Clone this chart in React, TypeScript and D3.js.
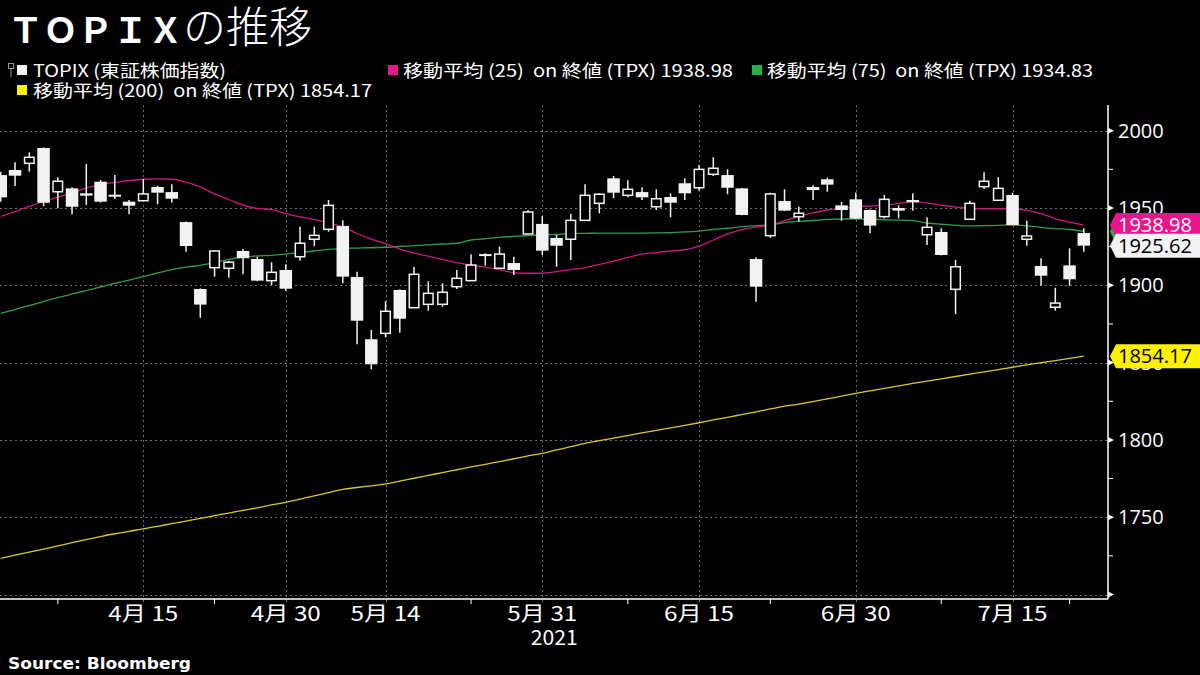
import React from "react";
import * as d3 from "d3";

const dates = ["2021-04-01","2021-04-02","2021-04-05","2021-04-06","2021-04-07","2021-04-08","2021-04-09","2021-04-12","2021-04-13","2021-04-14","2021-04-15","2021-04-16","2021-04-19","2021-04-20","2021-04-21","2021-04-22","2021-04-23","2021-04-26","2021-04-27","2021-04-28","2021-04-30","2021-05-06","2021-05-07","2021-05-10","2021-05-11","2021-05-12","2021-05-13","2021-05-14","2021-05-17","2021-05-18","2021-05-19","2021-05-20","2021-05-21","2021-05-24","2021-05-25","2021-05-26","2021-05-27","2021-05-28","2021-05-31","2021-06-01","2021-06-02","2021-06-03","2021-06-04","2021-06-07","2021-06-08","2021-06-09","2021-06-10","2021-06-11","2021-06-14","2021-06-15","2021-06-16","2021-06-17","2021-06-18","2021-06-21","2021-06-22","2021-06-23","2021-06-24","2021-06-25","2021-06-28","2021-06-29","2021-06-30","2021-07-01","2021-07-02","2021-07-05","2021-07-06","2021-07-07","2021-07-08","2021-07-09","2021-07-12","2021-07-13","2021-07-14","2021-07-15","2021-07-16","2021-07-19","2021-07-20","2021-07-21","2021-07-26"];

const opens = [1971.3,1974.6,1978.9,1988.8,1960.5,1962.7,1959.5,1967,1958.6,1954.1,1954.7,1963.6,1960.3,1940.9,1897.6,1911.4,1911,1922.2,1917,1903,1909.9,1918.5,1929.8,1936.2,1938.4,1905.4,1865.1,1868.9,1897,1885.5,1887.7,1887.7,1899.1,1903,1920.2,1911,1914.4,1933.2,1939.7,1930.6,1929.8,1942,1953,1969.2,1958.2,1960.3,1950.8,1957.1,1966,1963.1,1971.8,1971.3,1962.7,1917,1932.1,1954.5,1944.4,1963.6,1968.6,1951.7,1955.6,1948.7,1944.4,1950,1955.2,1932.7,1934.5,1897.4,1942.7,1963.8,1955,1958.4,1929.8,1912.5,1885.8,1912.9,1933.8];
const highs = [1973.5,1979.6,1986,1989.2,1969.9,1963.5,1978.5,1968.1,1971.3,1955.2,1968.8,1964.4,1965.3,1941.2,1898,1922.5,1915.9,1923.5,1918.5,1914.9,1913.6,1937.9,1937.9,1955.2,1942,1908.8,1871.1,1889.7,1897.3,1911.8,1902.6,1901.3,1909.9,1920.1,1920.7,1925,1918.5,1948.7,1944.8,1932.5,1946.1,1965.3,1959.5,1970.7,1967.9,1963.4,1962.1,1959.5,1969.2,1977.8,1982.8,1975,1963,1918.1,1959.9,1962.1,1950.8,1964.7,1969.6,1953.9,1960.1,1949,1958.4,1951.7,1959.5,1944,1936.9,1916.4,1954.7,1973.1,1969.9,1959.9,1941.8,1917.5,1898.4,1923.9,1936.9];
const lows = [1954,1964.2,1973.5,1951.3,1949.8,1945.9,1951.9,1953.5,1955.8,1945.9,1954.5,1952.4,1953.4,1921.7,1879,1905.6,1904.9,1907.1,1902.6,1900.2,1896.5,1915.9,1925.4,1934.7,1901.3,1861.8,1845.7,1866.4,1869.3,1885.2,1883.6,1886.2,1897.6,1902.8,1912.7,1910.8,1906.7,1933,1919.6,1912,1916.3,1941.8,1946.6,1956.3,1956.9,1955.2,1948.7,1944,1955.2,1961.2,1970.7,1958.9,1945.3,1889.4,1930.8,1948.1,1941.1,1955.2,1960.5,1941.8,1942.9,1933.6,1943.3,1943.3,1948.3,1926.1,1919.4,1881.4,1942.5,1962.3,1954.8,1938.8,1925.6,1899.7,1883.6,1899.7,1921.7];
const closes = [1956.9,1970.9,1982.8,1953.4,1967.3,1950.8,1958,1954.1,1957.3,1951.5,1959.1,1959.9,1956,1925.4,1887.5,1922.2,1914.9,1917.5,1903,1908.4,1897.8,1927.2,1932.3,1951.7,1905.6,1877.1,1848.9,1883.2,1878.4,1907.1,1894.8,1895.5,1904.5,1913.1,1918.9,1920.2,1909.9,1947.4,1922.4,1925.6,1942,1958.2,1958.9,1959.9,1962.1,1956.9,1956,1953.4,1959.5,1975,1975.7,1963.1,1945.5,1899.1,1959.1,1948.3,1946.6,1961.6,1965.1,1948.7,1943.1,1938.6,1955.6,1948.3,1953.7,1937.5,1919.6,1912,1953,1967.3,1962.7,1939,1931.9,1906.2,1888.5,1903.9,1925.62];

const ma25 = [1944.5,1947.7,1951.0,1954.2,1957.1,1960.0,1962.9,1965.3,1966.5,1967.8,1968.6,1968.8,1968.6,1966.8,1963.6,1959.1,1955.5,1951.9,1949.7,1949.0,1946.4,1944.2,1942.6,1940.3,1937.7,1933.5,1929.9,1927.0,1923.4,1920.9,1918.8,1916.7,1914.6,1913.1,1911.8,1910.2,1908.2,1907.8,1907.8,1908.9,1910.2,1911.5,1913.5,1915.7,1918.0,1920.2,1921.2,1922.2,1923.0,1925.4,1929.3,1933.2,1936.0,1937.7,1939.0,1941.9,1944.5,1946.8,1948.7,1949.7,1950.6,1951.3,1951.9,1952.9,1954.1,1953.2,1951.9,1950.6,1949.7,1949.5,1949.5,1949.4,1948.4,1946.4,1943.2,1940.9,1938.98];
const ma75 = [1881.9,1884.3,1886.9,1889.5,1892.1,1894.4,1896.6,1898.9,1901.2,1903.4,1905.6,1908.0,1910.2,1911.8,1912.9,1914.7,1916.7,1918.3,1919.0,1919.4,1920.1,1921.2,1922.2,1923.2,1923.9,1924.1,1924.3,1924.6,1925.1,1925.7,1926.2,1926.7,1927.2,1929.3,1930.1,1931.0,1931.6,1932.2,1932.5,1933.0,1933.4,1933.6,1933.8,1933.8,1933.8,1933.8,1933.9,1934.0,1934.5,1935.1,1936.1,1936.9,1937.9,1938.6,1939.0,1940.6,1941.3,1941.9,1942.6,1942.9,1942.9,1942.7,1942.4,1942.2,1941.8,1940.3,1939.5,1938.8,1938.4,1938.6,1938.8,1939.0,1938.5,1937.5,1936.7,1936.1,1934.83];
const ma200 = [1723.4,1725.4,1727.4,1729.4,1731.4,1733.5,1735.5,1737.5,1739.3,1740.9,1742.4,1744.1,1745.8,1747.5,1749.2,1751.0,1752.7,1754.4,1756.1,1757.9,1759.6,1761.7,1763.8,1765.9,1768.0,1769.2,1770.3,1771.5,1773.3,1775.2,1777.0,1778.9,1780.7,1782.5,1784.2,1786.0,1787.8,1789.6,1791.3,1793.5,1795.6,1797.8,1799.5,1801.1,1802.8,1804.5,1806.1,1807.8,1809.4,1811.1,1812.9,1814.6,1816.4,1818.2,1820.0,1821.8,1823.1,1824.8,1826.5,1828.3,1830.1,1831.7,1833.3,1834.9,1836.5,1838.0,1839.5,1841.0,1842.5,1844.0,1845.5,1847.0,1848.5,1849.9,1851.3,1852.7,1854.17];

const yTickValues = [1750, 1800, 1850, 1900, 1950, 2000];
const yMajorMarks = [1700, 1750, 1800, 1850, 1900, 1950, 2000];
const yMinorMarks = [1725, 1775, 1825, 1875, 1925, 1975];
const xTickDates = ["2021-04-15","2021-04-30","2021-05-14","2021-05-31","2021-06-15","2021-06-30","2021-07-15"];
const xTickLabels = ["4月 15","4月 30","5月 14","5月 31","6月 15","6月 30","7月 15"];
const xMinorDates = ["2021-04-07","2021-04-22","2021-05-24","2021-06-08","2021-06-22","2021-07-08","2021-07-21"];
const yearLabel = "2021";

const legendLabels = ["TOPIX (東証株価指数)", "移動平均 (25)  on 終値 (TPX) 1938.98", "移動平均 (75)  on 終値 (TPX) 1934.83", "移動平均 (200)  on 終値 (TPX) 1854.17"];

const JP = "'Noto Sans CJK JP', 'Noto Sans', sans-serif";
const NUM = "'Open Sans', 'Noto Sans', sans-serif";

export default function App() {
  const W = 1200, H = 675;
  const axisX = 1108, axisY = 599, plotTop = 105;
  const x = d3.scalePoint<string>().domain(dates).range([0.8, 1083.8]);
  const y = d3.scaleLinear().domain([1700, 2000]).range([594.5, 130.7]);
  const xi = (i: number) => x(dates[i]) as number;
  const mkLine = (arr: number[]) =>
    d3.line<number>().x((_, i) => xi(i)).y((d) => y(d)).curve(d3.curveMonotoneX)(arr) || "";

  const lastClose = closes[closes.length - 1];
  const tags = [
    { v: ma75[ma75.length - 1], fill: "#22b14c", color: "#fff", label: ma75[ma75.length - 1].toFixed(2), show: false },
    { v: ma25[ma25.length - 1], fill: "#e8168c", color: "#fff", label: ma25[ma25.length - 1].toFixed(2), show: true },
    { v: lastClose, fill: "#f2f2f2", color: "#000", label: lastClose.toFixed(2), show: true },
    { v: ma200[ma200.length - 1], fill: "#fff200", color: "#000", label: ma200[ma200.length - 1].toFixed(2), show: true },
  ];
  const tagPath = (cy: number) =>
    `M${axisX + 2},${cy} L${axisX + 8},${cy - 12} L1200,${cy - 12} L1200,${cy + 12} L${axisX + 8},${cy + 12} Z`;

  return (
    <svg width={W} height={H} style={{ position: "absolute", left: 0, top: 0, background: "#000" }}>
      <rect x={0} y={0} width={W} height={H} fill="#000" />
      <defs>
        <clipPath id="plot">
          <rect x={0} y={plotTop} width={axisX} height={axisY - plotTop} />
        </clipPath>
      </defs>

      {/* title */}
      <text x={8} y={43} fill="#fff" fontFamily={JP}>
        <tspan fontSize={35} fontWeight={700}>ＴＯＰＩＸ</tspan>
        <tspan fontSize={43} fontWeight={300}>の推移</tspan>
      </text>

      {/* legend */}
      <g>
        <rect x={8.5} y={63.5} width={5} height={5} fill="none" stroke="#999" strokeWidth={1} />
        <line x1={11} y1={69} x2={11} y2={77} stroke="#999" strokeWidth={1} />
        <rect x={17} y={65} width={10} height={10} fill="#f2f2f2" />
        <text x={33} y={77} fill="#fff" fontSize={17} fontFamily={JP} textLength={193} lengthAdjust="spacingAndGlyphs">{legendLabels[0]}</text>
        <rect x={388} y={65} width={10} height={10} fill="#e8168c" />
        <text x={403} y={77} fill="#fff" fontSize={17} fontFamily={JP} textLength={330} lengthAdjust="spacingAndGlyphs" style={{ whiteSpace: "pre" }}>{legendLabels[1]}</text>
        <rect x={752} y={65} width={10} height={10} fill="#22b14c" />
        <text x={767} y={77} fill="#fff" fontSize={17} fontFamily={JP} textLength={326} lengthAdjust="spacingAndGlyphs" style={{ whiteSpace: "pre" }}>{legendLabels[2]}</text>
        <rect x={17} y={85} width={10} height={10} fill="#fff200" />
        <text x={33} y={97} fill="#fff" fontSize={17} fontFamily={JP} textLength={339} lengthAdjust="spacingAndGlyphs" style={{ whiteSpace: "pre" }}>{legendLabels[3]}</text>
      </g>

      {/* grid */}
      <g stroke="#6e6e6e" strokeWidth={1} strokeDasharray="2,3">
        {yMajorMarks.map((v) => (
          <line key={"gy" + v} x1={0} x2={axisX} y1={Math.round(y(v)) + 0.5} y2={Math.round(y(v)) + 0.5} />
        ))}
        {xTickDates.map((d) => (
          <line key={"gx" + d} x1={Math.round(x(d) as number) + 0.5} x2={Math.round(x(d) as number) + 0.5} y1={plotTop} y2={axisY + 4} />
        ))}
      </g>

      {/* moving averages */}
      <g clipPath="url(#plot)" fill="none">
        <path d={mkLine(ma200)} stroke="#d6c82e" strokeWidth={1.3} />
        <path d={mkLine(ma75)} stroke="#2e9e48" strokeWidth={1.3} />
        <path d={mkLine(ma25)} stroke="#c8197e" strokeWidth={1.3} />
      </g>

      {/* candles */}
      <g clipPath="url(#plot)">
        {dates.map((d, i) => {
          const cx = xi(i);
          const o = opens[i], c = closes[i];
          const up = c >= o;
          const top = y(Math.max(o, c));
          const bot = y(Math.min(o, c));
          const h = Math.max(bot - top, 2);
          return (
            <g key={d}>
              <line x1={cx} x2={cx} y1={y(highs[i])} y2={y(lows[i])} stroke="#f2f2f2" strokeWidth={1.5} />
              {up ? (
                <rect x={cx - 4.75} y={top} width={9.5} height={h} fill="#000" stroke="#f2f2f2" strokeWidth={1.5} />
              ) : (
                <rect x={cx - 6.25} y={top} width={12.5} height={h} fill="#f2f2f2" />
              )}
            </g>
          );
        })}
      </g>

      {/* y axis */}
      <line x1={axisX} x2={axisX} y1={plotTop} y2={axisY} stroke="#fff" strokeWidth={1.5} />
      {yMajorMarks.map((v) => (
        <path key={"ym" + v} d={`M${axisX},${y(v) - 3} L${axisX + 6},${y(v)} L${axisX},${y(v) + 3} Z`} fill="#fff" />
      ))}
      {yMinorMarks.map((v) => (
        <line key={"yn" + v} x1={axisX} x2={axisX + 5} y1={y(v)} y2={y(v)} stroke="#fff" strokeWidth={1} />
      ))}
      {yTickValues.map((v) => (
        <text key={"yl" + v} x={1118} y={y(v) + 7} fill="#fff" fontSize={20} fontFamily={NUM}>{v}</text>
      ))}

      {/* x axis */}
      <line x1={0} x2={axisX} y1={axisY} y2={axisY} stroke="#fff" strokeWidth={1.5} />
      {xMinorDates.map((d) => (
        <line key={"xm" + d} x1={x(d) as number} x2={x(d) as number} y1={axisY} y2={axisY + 5} stroke="#fff" strokeWidth={1} />
      ))}
      {xTickDates.map((d, k) => (
        <text key={"xl" + d} x={x(d) as number} y={621} fill="#fff" fontSize={20} fontFamily={JP} textAnchor="middle" textLength={70} lengthAdjust="spacingAndGlyphs">{xTickLabels[k]}</text>
      ))}
      <text x={(x("2021-05-31") as number) + 12} y={645} fill="#fff" fontSize={20} fontFamily={JP} textAnchor="middle" textLength={47} lengthAdjust="spacingAndGlyphs">{yearLabel}</text>

      {/* value tags */}
      {tags.map((t, k) => (
        <g key={"tag" + k}>
          <path d={tagPath(y(t.v))} fill={t.fill} />
          {t.show && (
            <text x={1118} y={y(t.v) + 7} fill={t.color} fontSize={20} fontFamily={NUM}>{t.label}</text>
          )}
        </g>
      ))}

      {/* source */}
      <text x={8} y={669} fill="#fff" fontSize={16} fontWeight={700} fontFamily={"'DejaVu Sans', sans-serif"} textLength={183} lengthAdjust="spacingAndGlyphs">Source: Bloomberg</text>
    </svg>
  );
}
